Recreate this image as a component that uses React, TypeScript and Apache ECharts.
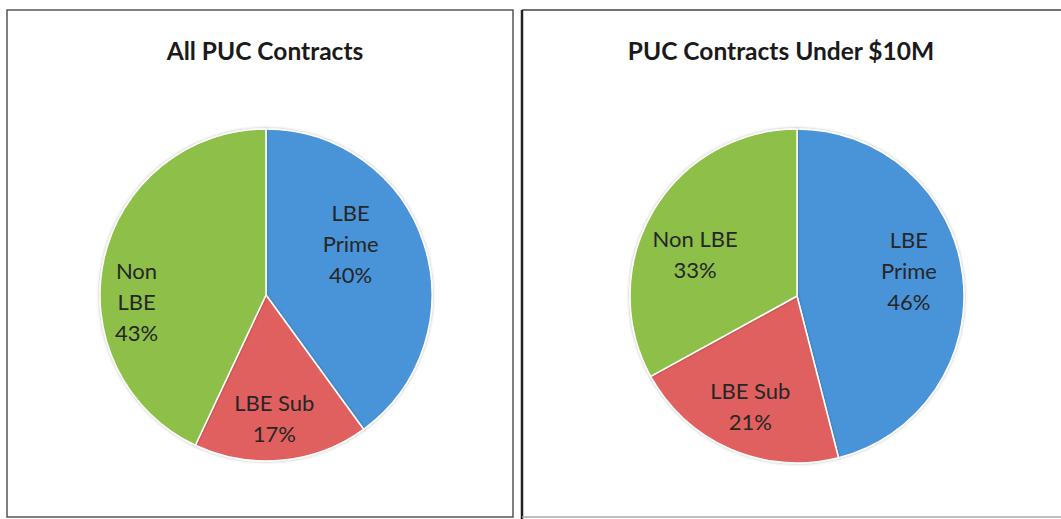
import React, { useEffect, useRef } from "react";
import * as echarts from "echarts";

const titles = ["All PUC Contracts", "PUC Contracts Under $10M"];
const leftNames = ["LBE\nPrime", "LBE Sub", "Non\nLBE"];
const leftValues = [40, 17, 43];
const rightNames = ["LBE\nPrime", "LBE Sub", "Non LBE"];
const rightValues = [46, 21, 33];

const COLORS = ["#4A94D8", "#E0605F", "#8DBF48"];
const FONT = "Lato, 'Open Sans', sans-serif";
const PIES = [
  { cx: 266, cy: 295, r: 166, off: [[0.51, -0.31], [0.05, 0.74], [-0.78, 0.04]] },
  { cx: 797, cy: 296, r: 167, off: [[0.67, -0.15], [-0.28, 0.66], [-0.61, -0.25]] },
];

export default function App() {
  const ref = useRef<HTMLDivElement>(null);
  useEffect(() => {
    const chart = echarts.init(ref.current!, null, { renderer: "svg" });
    const mk = (names: string[], values: number[], i: number) => ({
      type: "pie",
      center: [PIES[i].cx, PIES[i].cy],
      radius: PIES[i].r,
      startAngle: 90,
      clockwise: true,
      data: names.map((n, k) => ({ name: n, value: values[k], itemStyle: { color: COLORS[k] } })),
      itemStyle: { borderColor: "#ffffff", borderWidth: 1.5, shadowColor: "rgba(0,0,0,0.3)", shadowBlur: 3 },
      label: {
        show: true,
        position: "inside",
        formatter: "{b}\n{c}%",
        color: "#262626",
        fontFamily: FONT,
        fontSize: 22,
        lineHeight: 31,
        align: "center",
      },
      labelLine: { show: false },
      labelLayout: (p: any) => {
        const P = PIES[i];
        const o = P.off[p.dataIndex];
        return {
          x: P.cx + o[0] * P.r,
          y: P.cy + o[1] * P.r,
          align: "center",
          verticalAlign: "middle",
        };
      },
      emphasis: { disabled: true },
    });
    const ts = { fontFamily: FONT, fontSize: 24.5, fontWeight: "bold", color: "#1a1a1a" };
    chart.setOption({
      animation: false,
      title: [
        { text: titles[0], left: 260, top: 33, textAlign: "center", textStyle: ts },
        { text: titles[1], left: 776, top: 33, textAlign: "center", textStyle: ts },
      ],
      graphic: [
        { type: "rect", shape: { x: 7, y: 10, width: 506, height: 507 }, style: { fill: "none", stroke: "#555", lineWidth: 1.5 } },
        { type: "line", shape: { x1: 522, y1: 10, x2: 1061, y2: 10 }, style: { stroke: "#444", lineWidth: 1.5 } },
        { type: "line", shape: { x1: 522, y1: 10, x2: 522, y2: 519 }, style: { stroke: "#222", lineWidth: 2.5 } },
        { type: "line", shape: { x1: 522, y1: 517, x2: 1061, y2: 517 }, style: { stroke: "#aaa", lineWidth: 1.5 } },
      ],
      series: [mk(leftNames, leftValues, 0), mk(rightNames, rightValues, 1)],
    });
    return () => chart.dispose();
  }, []);
  return <div ref={ref} style={{ position: "fixed", left: 0, top: 0, width: 1061, height: 519, background: "#fff" }} />;
}
